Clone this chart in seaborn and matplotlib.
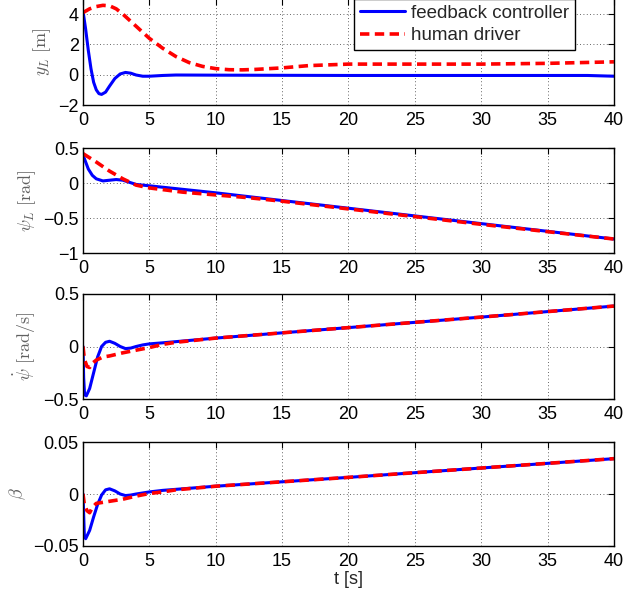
import numpy as np
import pandas as pd
import matplotlib
matplotlib.use("Agg")
import matplotlib.pyplot as plt
import seaborn as sns

# ---------------- data ----------------
# panel 1: lateral offset y_L [m]
t_yl_fb = [0, 0.2, 0.4, 0.6, 0.8, 1.0, 1.2, 1.4, 1.7, 2.0, 2.4, 2.8, 3.2, 3.6, 4.0, 4.5, 5.0, 6, 7, 10, 20, 30, 38, 40]
yl_fb = [4.2, 3.0, 1.6, 0.4, -0.5, -1.0, -1.25, -1.3, -1.15, -0.75, -0.25, 0.05, 0.15, 0.1, -0.02, -0.1, -0.1, -0.05, -0.02, -0.03, -0.05, -0.05, -0.05, -0.1]
t_yl_hd = [0, 0.5, 1.0, 1.5, 2.0, 2.5, 3.0, 3.5, 4, 5, 6, 7, 8, 9, 10, 11, 12, 13, 15, 17, 20, 25, 30, 35, 40]
yl_hd = [4.1, 4.35, 4.5, 4.58, 4.55, 4.35, 4.0, 3.6, 3.2, 2.4, 1.75, 1.2, 0.8, 0.55, 0.4, 0.33, 0.32, 0.35, 0.45, 0.6, 0.7, 0.7, 0.7, 0.75, 0.85]

# panel 2: heading error psi_L [rad]
t_psl_fb = [0, 0.2, 0.4, 0.7, 1.0, 1.5, 2.0, 2.5, 3.0, 3.5, 4, 5, 10, 15, 20, 30, 40]
psl_fb = [0.4, 0.3, 0.2, 0.11, 0.06, 0.03, 0.04, 0.05, 0.04, 0.01, -0.02, -0.04, -0.14, -0.25, -0.36, -0.58, -0.8]
t_psl_hd = [0, 1, 2, 3, 4, 5, 7.5, 10, 12.5, 15, 20, 30, 40]
psl_hd = [0.42, 0.3, 0.17, 0.06, -0.03, -0.07, -0.13, -0.17, -0.21, -0.26, -0.37, -0.59, -0.8]

# panel 3: yaw rate psi_dot [rad/s]
t_psd_fb = [0, 0.05, 0.12, 0.25, 0.5, 0.8, 1.1, 1.4, 1.7, 2.0, 2.4, 2.8, 3.2, 3.6, 4.0, 4.5, 5, 6, 10, 20, 30, 40]
psd_fb = [0, -0.3, -0.46, -0.47, -0.4, -0.25, -0.1, 0.0, 0.04, 0.05, 0.03, 0.0, -0.02, -0.015, 0.0, 0.015, 0.025, 0.035, 0.08, 0.18, 0.28, 0.385]
t_psd_hd = [0, 0.1, 0.3, 0.5, 0.7, 1.0, 1.5, 2, 3, 4, 5, 6, 7, 10, 20, 30, 40]
psd_hd = [0, -0.12, -0.19, -0.2, -0.16, -0.13, -0.1, -0.09, -0.06, -0.035, -0.01, 0.02, 0.04, 0.08, 0.18, 0.28, 0.385]

# panel 4: side slip beta
t_b_fb = [0, 0.1, 0.2, 0.5, 0.8, 1.1, 1.4, 1.7, 2.0, 2.4, 2.8, 3.2, 3.6, 4.0, 5, 6, 10, 20, 30, 40]
b_fb = [0, -0.04, -0.043, -0.035, -0.022, -0.01, -0.001, 0.004, 0.005, 0.003, 0.0, -0.0015, -0.001, 0.0, 0.002, 0.0035, 0.0075, 0.016, 0.025, 0.034]
t_b_hd = [0, 0.1, 0.3, 0.5, 0.7, 1.0, 2, 3, 4, 5, 6, 7, 10, 20, 30, 40]
b_hd = [0, -0.01, -0.016, -0.018, -0.013, -0.009, -0.007, -0.005, -0.002, 0.0005, 0.002, 0.004, 0.0075, 0.016, 0.025, 0.034]

series_names = ["feedback controller", "human driver"]
xticks = [0, 5, 10, 15, 20, 25, 30, 35, 40]
panels = [
    dict(fb=(t_yl_fb, yl_fb), hd=(t_yl_hd, yl_hd), ylim=(-2, 5), yticks=[-2, 0, 2, 4],
         ylabel=r"$y_L\ [\mathrm{m}]$"),
    dict(fb=(t_psl_fb, psl_fb), hd=(t_psl_hd, psl_hd), ylim=(-1, 0.5), yticks=[-1, -0.5, 0, 0.5],
         ylabel=r"$\psi_L\ [\mathrm{rad}]$"),
    dict(fb=(t_psd_fb, psd_fb), hd=(t_psd_hd, psd_hd), ylim=(-0.5, 0.5), yticks=[-0.5, 0, 0.5],
         ylabel=r"$\dot{\psi}\ [\mathrm{rad/s}]$"),
    dict(fb=(t_b_fb, b_fb), hd=(t_b_hd, b_hd), ylim=(-0.05, 0.05), yticks=[-0.05, 0, 0.05],
         ylabel=r"$\beta$"),
]

# ---------------- style ----------------
sns.set_style("white")
plt.rcParams["font.family"] = ["Liberation Sans", "DejaVu Sans"]
plt.rcParams["mathtext.fontset"] = "cm"
plt.rcParams["axes.unicode_minus"] = True

fig = plt.figure(figsize=(6.42, 6.0), dpi=100)
positions = [
    [0.1293, 0.825, 0.827, 0.1767],
    [0.1293, 0.5783, 0.827, 0.175],
    [0.1293, 0.335, 0.827, 0.175],
    [0.1293, 0.09, 0.827, 0.1733],
]

def fmt(v):
    s = ("%g" % v)
    return s.replace("-", "\u2212")

axes = []
for pos, p in zip(positions, panels):
    ax = fig.add_axes(pos)
    df_fb = pd.DataFrame({"t": p["fb"][0], "v": p["fb"][1]})
    df_hd = pd.DataFrame({"t": p["hd"][0], "v": p["hd"][1]})
    sns.lineplot(data=df_fb, x="t", y="v", ax=ax, color=(0, 0, 1), lw=2.2,
                 estimator=None, sort=False, label=series_names[0])
    sns.lineplot(data=df_hd, x="t", y="v", ax=ax, color=(1, 0, 0), lw=2.6,
                 estimator=None, sort=False, label=series_names[1],
                 linestyle=(0, (2.6, 1.5)))
    ax.set_xlim(0, 40)
    ax.set_ylim(*p["ylim"])
    ax.set_xticks(xticks)
    ax.set_xticklabels([fmt(x) for x in xticks])
    ax.set_yticks(p["yticks"])
    ax.set_yticklabels([fmt(y) for y in p["yticks"]])
    ax.tick_params(direction="in", top=True, right=True, length=4, width=0.8,
                   labelsize=13, colors="black")
    ax.tick_params(axis="x", pad=5)
    ax.tick_params(axis="y", pad=3)
    for sp in ax.spines.values():
        sp.set_visible(True)
        sp.set_color("black")
        sp.set_linewidth(1.0)
    ax.grid(True, color="#333333", linestyle=(0, (1, 3)), linewidth=0.6)
    ax.set_xlabel("")
    ax.set_ylabel(p["ylabel"], fontsize=13, color="#606060", labelpad=4)
    if ax.get_legend() is not None:
        ax.get_legend().remove()
    axes.append(ax)

axes[-1].set_xlabel("t [s]", fontsize=13, labelpad=1)

h, l = axes[0].get_legend_handles_labels()
leg = axes[0].legend(h, l, loc="lower right",
                     bbox_to_anchor=(575 / 642, 1 - 50 / 600),
                     bbox_transform=fig.transFigure,
                     fontsize=13.5, frameon=True, fancybox=False, framealpha=1,
                     edgecolor="black", handlelength=2.4, handletextpad=0.35,
                     borderpad=0.3, labelspacing=0.3, borderaxespad=0)
leg.get_frame().set_linewidth(1.0)

fig.savefig("out.png", dpi=100)
